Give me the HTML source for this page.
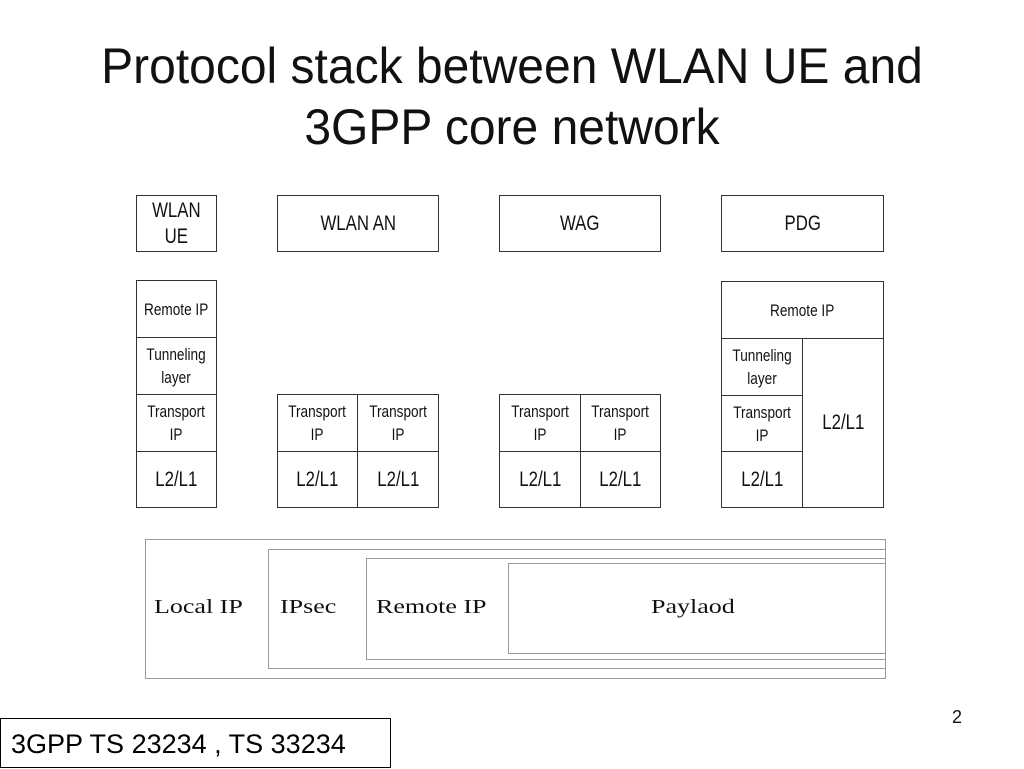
<!DOCTYPE html>
<html><head><meta charset="utf-8"><style>
html,body{margin:0;padding:0;background:#fff;}
body{width:1024px;height:768px;position:relative;overflow:hidden;font-family:"Liberation Sans",sans-serif;}
.b{position:absolute;box-sizing:border-box;border:1.5px solid #333;display:flex;align-items:center;justify-content:center;text-align:center;font-family:"Liberation Sans",sans-serif;color:#111;line-height:1.3;}
.b span{display:inline-block;transform:scaleX(0.8);white-space:nowrap;}
.s{font-size:17px;line-height:23px;}
.m{font-size:21px;}
.g{position:absolute;box-sizing:border-box;border:1.5px solid #999;}
.t{position:absolute;font-family:"Liberation Serif",serif;font-size:20px;color:#111;transform:scaleX(1.3);transform-origin:left center;white-space:nowrap;}
</style></head><body>
<div style="position:absolute;left:0;width:1024px;top:36px;text-align:center;font-size:50px;line-height:61px;color:#111;"><span style="display:inline-block;transform:scaleX(0.96);">Protocol stack between WLAN UE and<br>3GPP core network</span></div>

<div class="b m" style="left:136px;top:195px;width:81px;height:57px;line-height:1.2;"><span>WLAN<br>UE</span></div>
<div class="b m" style="left:277px;top:195px;width:162px;height:57px;"><span>WLAN AN</span></div>
<div class="b m" style="left:499px;top:195px;width:162px;height:57px;"><span>WAG</span></div>
<div class="b m" style="left:721px;top:195px;width:163px;height:57px;"><span>PDG</span></div>

<div class="b s" style="left:136px;top:280px;width:81px;height:58px;"><span>Remote IP</span></div>
<div class="b s" style="left:136px;top:337px;width:81px;height:58px;"><span>Tunneling<br>layer</span></div>
<div class="b s" style="left:136px;top:394px;width:81px;height:58px;"><span>Transport<br>IP</span></div>
<div class="b m" style="left:136px;top:451px;width:81px;height:57px;"><span>L2/L1</span></div>

<div class="b s" style="left:277px;top:394px;width:81px;height:58px;"><span>Transport<br>IP</span></div>
<div class="b s" style="left:357px;top:394px;width:82px;height:58px;"><span>Transport<br>IP</span></div>
<div class="b m" style="left:277px;top:451px;width:81px;height:57px;"><span>L2/L1</span></div>
<div class="b m" style="left:357px;top:451px;width:82px;height:57px;"><span>L2/L1</span></div>

<div class="b s" style="left:499px;top:394px;width:82px;height:58px;"><span>Transport<br>IP</span></div>
<div class="b s" style="left:580px;top:394px;width:81px;height:58px;"><span>Transport<br>IP</span></div>
<div class="b m" style="left:499px;top:451px;width:82px;height:57px;"><span>L2/L1</span></div>
<div class="b m" style="left:580px;top:451px;width:81px;height:57px;"><span>L2/L1</span></div>

<div class="b s" style="left:721px;top:281px;width:163px;height:58px;"><span>Remote IP</span></div>
<div class="b s" style="left:721px;top:338px;width:82px;height:58px;"><span>Tunneling<br>layer</span></div>
<div class="b s" style="left:721px;top:395px;width:82px;height:57px;"><span>Transport<br>IP</span></div>
<div class="b m" style="left:721px;top:451px;width:82px;height:57px;"><span>L2/L1</span></div>
<div class="b m" style="left:802px;top:338px;width:82px;height:170px;"><span>L2/L1</span></div>

<div class="g" style="left:145px;top:539px;width:741px;height:140px;"></div>
<div class="g" style="left:268px;top:549px;width:618px;height:120px;"></div>
<div class="g" style="left:366px;top:558px;width:520px;height:102px;"></div>
<div class="g" style="left:508px;top:563px;width:378px;height:91px;"></div>
<div class="t" style="left:154px;top:596px;">Local IP</div>
<div class="t" style="left:280px;top:596px;">IPsec</div>
<div class="t" style="left:376px;top:596px;">Remote IP</div>
<div class="t" style="left:651px;top:596px;">Paylaod</div>

<div style="position:absolute;left:952px;top:707px;font-size:18px;color:#111;">2</div>
<div style="position:absolute;left:0;top:718px;width:391px;height:50px;box-sizing:border-box;border:1.5px solid #000;font-size:27px;line-height:50px;padding-left:10px;color:#000;white-space:nowrap;">3GPP TS 23234 , TS 33234</div>
</body></html>
